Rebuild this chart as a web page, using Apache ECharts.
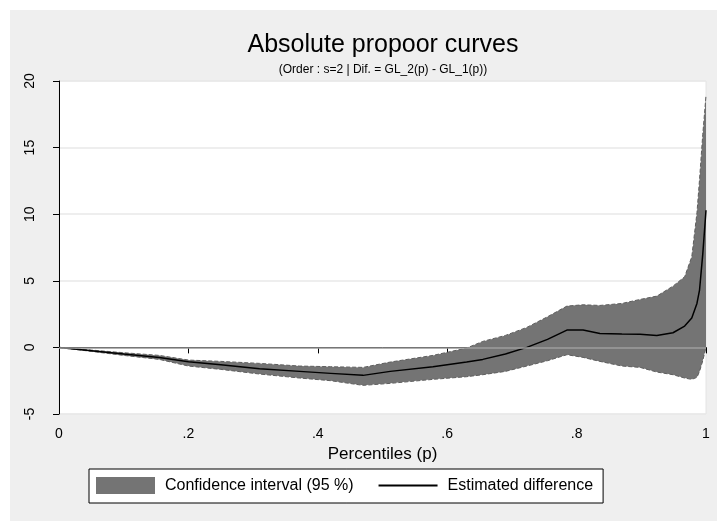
<!DOCTYPE html>
<html>
<head>
<meta charset="utf-8">
<script src="https://cdn.jsdelivr.net/npm/echarts@6/dist/echarts.min.js"></script>
<style>
  html, body { margin: 0; padding: 0; background: #fff; }
  #chart { position: absolute; left: 10px; top: 10px; width: 707px; height: 511px; }
</style>
</head>
<body>
<div id="chart"></div>
<script>
// percentiles p and the three curves
const pct = [0, 0.05, 0.1, 0.155, 0.2, 0.25, 0.31, 0.372, 0.42, 0.47, 0.512, 0.578, 0.63, 0.655, 0.69, 0.723, 0.755, 0.785, 0.81, 0.836, 0.87, 0.898, 0.924, 0.949, 0.967, 0.978, 0.986, 0.99, 0.995, 1]
const estimate = [0, -0.25, -0.5, -0.75, -1.08, -1.3, -1.6, -1.8, -1.95, -2.1, -1.8, -1.45, -1.1, -0.9, -0.5, 0, 0.6, 1.3, 1.3, 1.05, 1.0, 0.98, 0.9, 1.1, 1.6, 2.2, 3.3, 4.3, 7.0, 10.3]
const upper = [0, -0.2, -0.4, -0.6, -0.95, -1.05, -1.2, -1.4, -1.45, -1.5, -1.1, -0.6, -0.05, 0.45, 0.9, 1.5, 2.3, 3.1, 3.2, 3.15, 3.3, 3.6, 3.85, 4.6, 5.3, 6.8, 10.1, 12.6, 16, 18.9]
const lower = [0, -0.3, -0.6, -0.9, -1.4, -1.65, -2.0, -2.3, -2.5, -2.85, -2.7, -2.4, -2.2, -2.05, -1.8, -1.4, -1.0, -0.55, -0.75, -1.05, -1.4, -1.5, -1.85, -2.05, -2.3, -2.4, -2.25, -1.8, -1.0, 0.0]

const ciName = 'Confidence interval (95 %)'
const estName = 'Estimated difference'
const bandColor = '#747474'
const edgeColor = '#5e5e5e'
const font = 'Liberation Sans, Arial, sans-serif'

const chart = echarts.init(document.getElementById('chart'))

// the band: one polygon, upper curve forward then lower curve back
function renderBand(params, api) {
  if (params.dataIndex !== 0) return
  const pts = []
  for (let i = 0; i < pct.length; i++) pts.push(api.coord([pct[i], upper[i]]))
  for (let i = pct.length - 1; i >= 0; i--) pts.push(api.coord([pct[i], lower[i]]))
  return {
    type: 'polygon',
    shape: { points: pts },
    style: { fill: bandColor, stroke: 'none' }
  }
}

const edgeLine = (name, vals) => ({
  name: name,
  type: 'line',
  data: pct.map((p, i) => [p, vals[i]]),
  showSymbol: false,
  symbol: 'none',
  silent: true,
  lineStyle: { color: edgeColor, width: 1, type: [4, 2] },
  z: 2
})

chart.setOption({
  backgroundColor: '#efefef',
  animation: false,
  textStyle: { fontFamily: font },
  title: {
    text: 'Absolute propoor curves',
    subtext: '(Order : s=2 | Dif. = GL_2(p) - GL_1(p))',
    left: 373,
    textAlign: 'center',
    top: 23,
    itemGap: 6,
    padding: 0,
    textStyle: { fontSize: 25, fontWeight: 'normal', color: '#000', fontFamily: font },
    subtextStyle: { fontSize: 12, color: '#000', fontFamily: font }
  },
  grid: {
    left: 49,
    right: 11,
    top: 71,
    bottom: 107,
    show: true,
    backgroundColor: '#fff',
    borderColor: '#e4e4e4',
    borderWidth: 1
  },
  legend: {
    left: 79,
    top: 459,
    orient: 'horizontal',
    padding: [8, 10, 9, 7],
    itemGap: 24,
    itemWidth: 59,
    itemHeight: 17,
    backgroundColor: '#fff',
    borderColor: '#000',
    borderWidth: 1,
    borderRadius: 0,
    textStyle: { fontSize: 16, color: '#000', fontFamily: font, padding: [0, 0, 0, 5] },
    data: [
      { name: ciName, icon: 'rect', itemStyle: { color: bandColor, borderWidth: 0 } },
      { name: estName, itemStyle: { opacity: 0 } }
    ]
  },
  xAxis: {
    type: 'value',
    min: 0,
    max: 1,
    interval: 0.2,
    name: 'Percentiles (p)',
    nameLocation: 'middle',
    nameGap: 29,
    nameTextStyle: { fontSize: 17, color: '#000', fontFamily: font },
    axisLine: { show: true, lineStyle: { color: '#000', width: 1 } },
    axisTick: { show: true, length: 6, lineStyle: { color: '#000' } },
    axisLabel: {
      fontSize: 14,
      color: '#000',
      margin: 13,
      formatter: v => {
        const r = Math.round(v * 10) / 10
        if (r === 0) return '0'
        if (r === 1) return '1'
        return String(r).replace('0.', '.')
      }
    },
    splitLine: { show: false }
  },
  yAxis: {
    type: 'value',
    min: -5,
    max: 20,
    interval: 5,
    axisLine: { show: true, lineStyle: { color: '#000', width: 1 } },
    axisTick: { show: true, length: 6, lineStyle: { color: '#000' } },
    axisLabel: { fontSize: 14, color: '#000', rotate: 90, margin: 22 },
    splitLine: { show: true, lineStyle: { color: '#e8e8e8', width: 1.5 } }
  },
  series: [
    {
      name: ciName,
      type: 'custom',
      renderItem: renderBand,
      data: pct.map((p, i) => [p, upper[i], lower[i]]),
      encode: { x: 0, y: [1, 2] },
      itemStyle: { color: bandColor },
      silent: true,
      z: 2
    },
    edgeLine('lower', lower),
    Object.assign(edgeLine('upper', upper), {
      markLine: {
        silent: true,
        symbol: 'none',
        label: { show: false },
        lineStyle: { color: '#9e9e9e', width: 1.5, type: 'solid' },
        data: [{ yAxis: 0 }]
      }
    }),
    {
      name: estName,
      type: 'line',
      data: pct.map((p, i) => [p, estimate[i]]),
      showSymbol: false,
      symbol: 'none',
      itemStyle: { color: '#000' },
      lineStyle: { color: '#000', width: 1.5 },
      z: 3
    }
  ]
})
</script>
</body>
</html>
